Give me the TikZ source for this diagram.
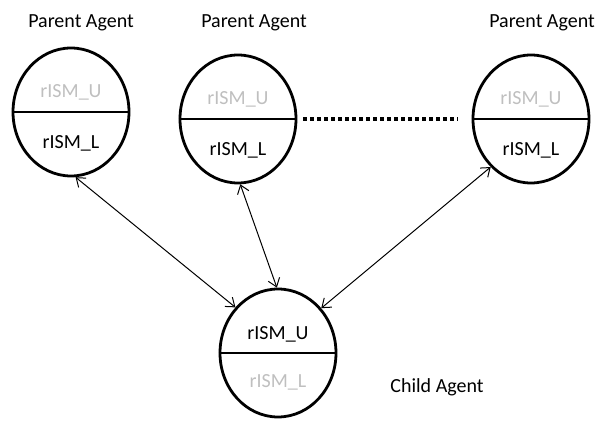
\documentclass[tikz,border=0pt]{standalone}
\usepackage{fontspec}
\setmainfont{Carlito}
\usetikzlibrary{positioning,arrows.meta,shapes.geometric}
\definecolor{fadetext}{RGB}{191,191,191}

\begin{document}
\begin{tikzpicture}[
  x=0.5pt, y=-0.5pt,
  font=\normalsize,
  agent/.style={draw, ellipse, line width=1.4pt, minimum width=58pt, minimum height=64pt, inner sep=0pt},
  divider/.style={line width=0.7pt},
  active/.style={inner sep=1pt, text=black},
  faded/.style={inner sep=1pt, text=fadetext},
  lbl/.style={inner sep=1pt},
  link/.style={{Straight Barb[length=4pt,width=6pt]}-{Straight Barb[length=4pt,width=6pt]}, line width=0.5pt},
  chain/.style={line width=2pt, dash pattern=on 2pt off 1.5pt}
]
\useasboundingbox (0,0) rectangle (602,421);

% parent agents: upper half faded, lower half active
\node[agent] (p1) at (71,112) {};
\node[agent] (p2) at (238,119) {};
\node[agent] (p3) at (531,119) {};
\foreach \p in {p1,p2,p3} {
  \draw[divider] (\p.west) -- (\p.east);
  \node[faded]  (\p u) at ([yshift=10pt]\p.center) {rISM\_U};
  \node[active] (\p l) at ([yshift=-15.5pt]\p.center) {rISM\_L};
}
\node[lbl] (p1name) at (81,23)  {Parent Agent};
\node[lbl] (p2name) at (254,23) {Parent Agent};
\node[lbl] (p3name) at (542,23) {Parent Agent};

% child agent: upper half active, lower half faded
\node[agent] (c) at (278,353) {};
\draw[divider] (c.west) -- (c.east);
\node[active] (cu) at ([yshift=9.5pt]c.center)  {rISM\_U};
\node[faded]  (cl) at ([yshift=-14.5pt]c.center) {rISM\_L};
\node[lbl] (cname) at (437,387) {Child Agent};

% links
\draw[chain] ([xshift=3pt]p2.east) -- ([xshift=-7pt]p3.west);
\draw[link] (p1.-86) -- (c.133);
\draw[link] (p2.-88) -- (c.91);
\draw[link] (p3.230) -- (c.46);
\end{tikzpicture}
\end{document}
